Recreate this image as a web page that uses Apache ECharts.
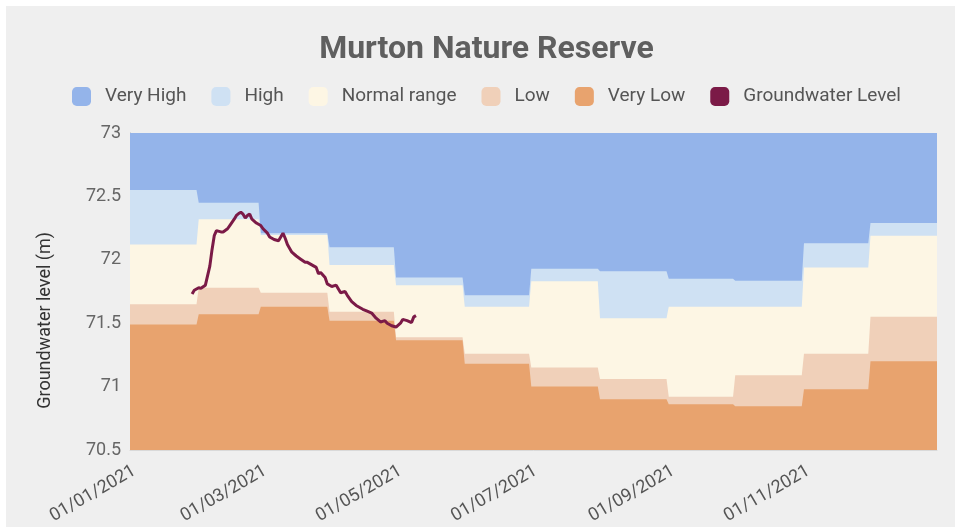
<!DOCTYPE html>
<html>
<head>
<meta charset="utf-8">
<script src="https://cdn.jsdelivr.net/npm/echarts@6/dist/echarts.min.js"></script>
<style>
  html, body { margin: 0; padding: 0; background: #ffffff; overflow: hidden; width: 955px; height: 530px; }
  #main { position: absolute; left: 6px; top: 6px; width: 961px; height: 521px; background: #efefef; }
</style>
</head>
<body>
<div id="main"></div>
<script>
// ---- Data ----
const monthIndex = [0, 1, 2, 3, 4, 5, 6, 7, 8, 9, 10, 11];
const upperLimit = 73;
const highTop      = [72.55, 72.45, 72.21, 72.10, 71.86, 71.72, 71.93, 71.91, 71.85, 71.835, 72.13, 72.29];
const normalTop    = [72.12, 72.32, 72.195, 71.96, 71.80, 71.63, 71.83, 71.54, 71.63, 71.63, 71.94, 72.19];
const lowTop       = [71.65, 71.78, 71.74, 71.59, 71.39, 71.26, 71.15, 71.06, 70.92, 71.09, 71.26, 71.55];
const veryLowTop   = [71.49, 71.57, 71.63, 71.52, 71.365, 71.18, 71.00, 70.90, 70.86, 70.845, 70.98, 71.20];

const gwDates = [
  '2021-01-29','2021-01-30','2021-02-01','2021-02-02','2021-02-04','2021-02-06','2021-02-07','2021-02-08',
  '2021-02-09','2021-02-11','2021-02-12','2021-02-14','2021-02-15','2021-02-17','2021-02-18','2021-02-19',
  '2021-02-20','2021-02-21','2021-02-22','2021-02-23','2021-02-24','2021-02-25','2021-02-27','2021-03-01',
  '2021-03-02','2021-03-04','2021-03-05','2021-03-07','2021-03-09','2021-03-10','2021-03-11','2021-03-12',
  '2021-03-13','2021-03-15','2021-03-17','2021-03-19','2021-03-21','2021-03-22','2021-03-25','2021-03-26',
  '2021-03-27','2021-03-28','2021-03-30','2021-03-31','2021-04-02','2021-04-04','2021-04-05','2021-04-06',
  '2021-04-08','2021-04-09','2021-04-11','2021-04-13','2021-04-16','2021-04-18','2021-04-20','2021-04-22',
  '2021-04-24','2021-04-26','2021-04-27','2021-04-29','2021-05-01','2021-05-03','2021-05-04','2021-05-06',
  '2021-05-08','2021-05-09','2021-05-10'
];
const gwLevels = [
  71.73, 71.76, 71.78, 71.775, 71.80, 71.95, 72.08, 72.19,
  72.23, 72.22, 72.22, 72.245, 72.27, 72.32, 72.35, 72.365,
  72.375, 72.36, 72.33, 72.35, 72.36, 72.32, 72.29, 72.27,
  72.245, 72.21, 72.18, 72.16, 72.15, 72.18, 72.21, 72.17,
  72.12, 72.06, 72.03, 72.005, 71.98, 71.98, 71.95, 71.94,
  71.89, 71.90, 71.86, 71.81, 71.79, 71.80, 71.77, 71.74,
  71.75, 71.72, 71.67, 71.64, 71.61, 71.595, 71.58, 71.54,
  71.51, 71.52, 71.50, 71.48, 71.47, 71.50, 71.53, 71.52,
  71.505, 71.55, 71.56
];

const yTicks = [70.5, 71, 71.5, 72, 72.5, 73];
const xLabelDates = ['2021-01-01', '2021-03-01', '2021-05-01', '2021-07-01', '2021-09-01', '2021-11-01'];

const seriesNames = ['Very High', 'High', 'Normal range', 'Low', 'Very Low', 'Groundwater Level'];
const colors = ['#94b4ea', '#cfe1f3', '#fdf6e4', '#f0d0b9', '#e8a36e', '#7b1a47'];

// ---- Build monthly step data ----
function stepData(values) {
  const out = [];
  monthIndex.forEach(function (m) {
    const v = Array.isArray(values) ? values[m] : values;
    out.push([new Date(2021, m, 1).getTime(), v]);
    out.push([new Date(2021, m + 1, 0).getTime(), v]);
  });
  return out;
}
function parseDate(s) {
  const p = s.split('-');
  return new Date(+p[0], +p[1] - 1, +p[2]).getTime();
}
function pad(n) { return (n < 10 ? '0' : '') + n; }
function fmt(v) {
  const d = new Date(v);
  return pad(d.getDate()) + '/' + pad(d.getMonth() + 1) + '/' + d.getFullYear();
}

const bandValues = [upperLimit, highTop, normalTop, lowTop, veryLowTop];
const series = bandValues.map(function (vals, i) {
  return {
    name: seriesNames[i],
    type: 'line',
    data: stepData(vals),
    showSymbol: false,
    symbol: 'none',
    lineStyle: { width: 0, color: colors[i] },
    itemStyle: { color: colors[i] },
    areaStyle: { color: colors[i], opacity: 1 },
    silent: true,
    z: 2 + i
  };
});
series.push({
  name: seriesNames[5],
  type: 'line',
  data: gwDates.map(function (d, i) { return [parseDate(d), gwLevels[i]]; }),
  showSymbol: false,
  symbol: 'none',
  lineStyle: { width: 3, color: colors[5] },
  itemStyle: { color: colors[5] },
  z: 10
});

const chart = echarts.init(document.getElementById('main'));
chart.setOption({
  backgroundColor: '#efefef',
  animation: false,
  title: {
    text: 'Murton Nature Reserve',
    left: 'center',
    top: 23,
    textStyle: { fontFamily: 'Roboto', fontSize: 32, fontWeight: 'bold', color: '#5f5f5f' }
  },
  legend: {
    left: 'center',
    top: 76,
    itemWidth: 19,
    itemHeight: 19,
    itemGap: 25,
    icon: 'roundRect',
    data: seriesNames.map(function (n, i) {
      return { name: n, icon: 'roundRect', itemStyle: { color: colors[i] } };
    }),
    textStyle: { fontFamily: 'Roboto', fontSize: 19, color: '#555555', padding: [0, 0, 0, 9] }
  },
  grid: { left: 124, right: 30, top: 127, bottom: 75, containLabel: false },
  xAxis: {
    type: 'value',
    min: new Date(2021, 0, 1).getTime(),
    max: new Date(2021, 11, 31).getTime(),
    axisLine: { show: true, lineStyle: { color: '#d9d9d9' } },
    axisTick: { show: false },
    splitLine: { show: false },
    axisLabel: {
      customValues: xLabelDates.map(parseDate),
      formatter: fmt,
      rotate: 30,
      verticalAlign: 'top',
      fontFamily: 'Roboto',
      fontSize: 18,
      color: '#555555',
      margin: 12
    }
  },
  yAxis: {
    type: 'value',
    min: yTicks[0],
    max: yTicks[yTicks.length - 1],
    interval: 0.5,
    axisLine: { show: true, lineStyle: { color: '#b0b0b0' } },
    axisTick: { show: false },
    splitLine: { show: false },
    axisLabel: { fontFamily: 'Roboto', fontSize: 18, color: '#666666', margin: 9 }
  },
  graphic: [{
    type: 'text',
    left: 30,
    top: 226,
    rotation: Math.PI / 2,
    style: {
      text: 'Groundwater level (m)',
      fontFamily: 'Roboto',
      fontSize: 18,
      fill: '#333333'
    }
  }],
  series: series
});
</script>
</body>
</html>
